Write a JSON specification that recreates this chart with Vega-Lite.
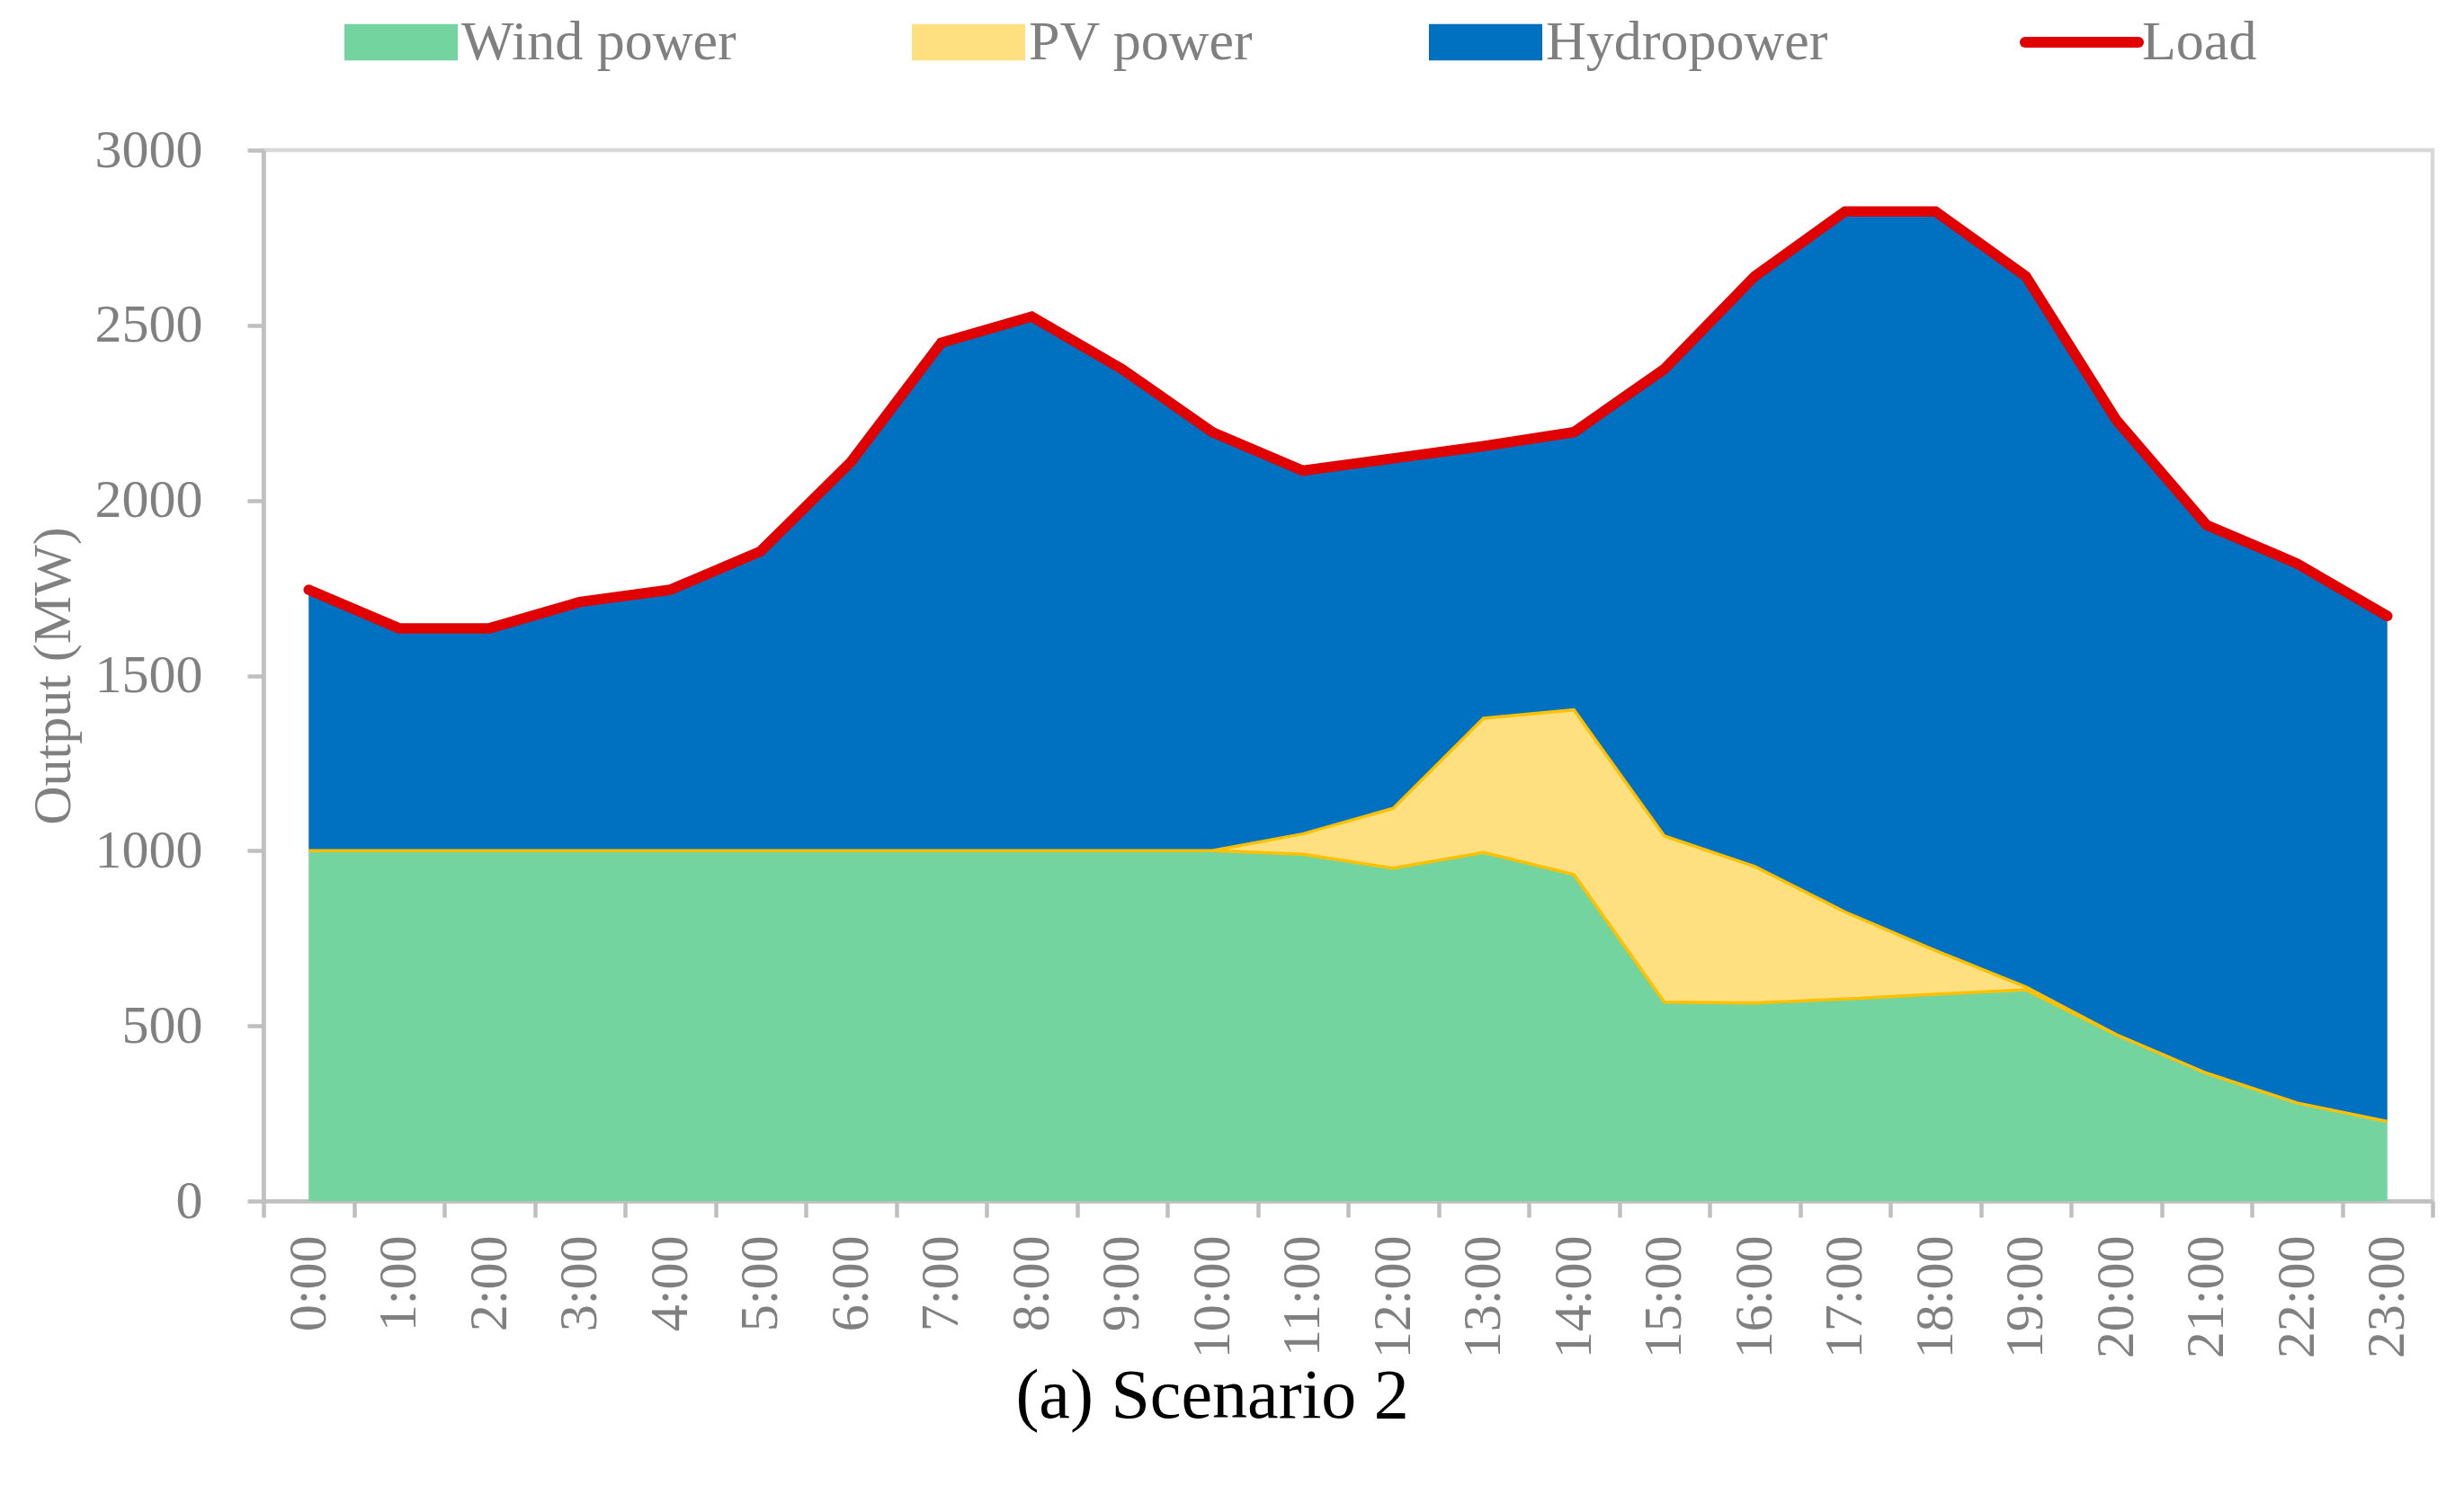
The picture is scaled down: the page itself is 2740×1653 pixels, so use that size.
{
  "$schema": "https://vega.github.io/schema/vega-lite/v6.json",
  "width": 2412,
  "height": 1169,
  "autosize": {"type": "none"},
  "padding": {"left": 293, "top": 167, "right": 35, "bottom": 317},
  "background": "white",
  "config": {
    "font": "Liberation Serif",
    "view": {"stroke": "#D9D9D9", "strokeWidth": 4.5},
    "axis": {
      "domainColor": "#BFBFBF", "domainWidth": 4.5,
      "tickColor": "#BFBFBF", "tickWidth": 4.5, "tickSize": 18,
      "labelColor": "#808080", "labelFont": "Liberation Serif", "labelFontSize": 60,
      "titleColor": "#808080", "titleFont": "Liberation Serif", "titleFontSize": 60, "titleFontWeight": "normal",
      "grid": false, "zindex": 1
    }
  },
  "title": {
    "text": "(a) Scenario 2", "orient": "bottom", "anchor": "middle", "frame": "bounds",
    "font": "Liberation Serif", "fontSize": 78, "fontWeight": "normal", "color": "black", "offset": 4, "dx": -20
  },
  "data": {
    "values": [
      {"h": "0:00", "s": "Wind power", "v": 1000}, {"h": "0:00", "s": "PV power", "v": 0}, {"h": "0:00", "s": "Hydropower", "v": 745}, {"h": "0:00", "s": "Load", "v": 1745},
      {"h": "1:00", "s": "Wind power", "v": 1000}, {"h": "1:00", "s": "PV power", "v": 0}, {"h": "1:00", "s": "Hydropower", "v": 635}, {"h": "1:00", "s": "Load", "v": 1635},
      {"h": "2:00", "s": "Wind power", "v": 1000}, {"h": "2:00", "s": "PV power", "v": 0}, {"h": "2:00", "s": "Hydropower", "v": 635}, {"h": "2:00", "s": "Load", "v": 1635},
      {"h": "3:00", "s": "Wind power", "v": 1000}, {"h": "3:00", "s": "PV power", "v": 0}, {"h": "3:00", "s": "Hydropower", "v": 710}, {"h": "3:00", "s": "Load", "v": 1710},
      {"h": "4:00", "s": "Wind power", "v": 1000}, {"h": "4:00", "s": "PV power", "v": 0}, {"h": "4:00", "s": "Hydropower", "v": 745}, {"h": "4:00", "s": "Load", "v": 1745},
      {"h": "5:00", "s": "Wind power", "v": 1000}, {"h": "5:00", "s": "PV power", "v": 0}, {"h": "5:00", "s": "Hydropower", "v": 855}, {"h": "5:00", "s": "Load", "v": 1855},
      {"h": "6:00", "s": "Wind power", "v": 1000}, {"h": "6:00", "s": "PV power", "v": 0}, {"h": "6:00", "s": "Hydropower", "v": 1110}, {"h": "6:00", "s": "Load", "v": 2110},
      {"h": "7:00", "s": "Wind power", "v": 1000}, {"h": "7:00", "s": "PV power", "v": 0}, {"h": "7:00", "s": "Hydropower", "v": 1450}, {"h": "7:00", "s": "Load", "v": 2450},
      {"h": "8:00", "s": "Wind power", "v": 1000}, {"h": "8:00", "s": "PV power", "v": 0}, {"h": "8:00", "s": "Hydropower", "v": 1525}, {"h": "8:00", "s": "Load", "v": 2525},
      {"h": "9:00", "s": "Wind power", "v": 1000}, {"h": "9:00", "s": "PV power", "v": 0}, {"h": "9:00", "s": "Hydropower", "v": 1375}, {"h": "9:00", "s": "Load", "v": 2375},
      {"h": "10:00", "s": "Wind power", "v": 1000}, {"h": "10:00", "s": "PV power", "v": 0}, {"h": "10:00", "s": "Hydropower", "v": 1195}, {"h": "10:00", "s": "Load", "v": 2195},
      {"h": "11:00", "s": "Wind power", "v": 990}, {"h": "11:00", "s": "PV power", "v": 58}, {"h": "11:00", "s": "Hydropower", "v": 1037}, {"h": "11:00", "s": "Load", "v": 2085},
      {"h": "12:00", "s": "Wind power", "v": 950}, {"h": "12:00", "s": "PV power", "v": 171}, {"h": "12:00", "s": "Hydropower", "v": 999}, {"h": "12:00", "s": "Load", "v": 2120},
      {"h": "13:00", "s": "Wind power", "v": 995}, {"h": "13:00", "s": "PV power", "v": 383}, {"h": "13:00", "s": "Hydropower", "v": 777}, {"h": "13:00", "s": "Load", "v": 2155},
      {"h": "14:00", "s": "Wind power", "v": 932}, {"h": "14:00", "s": "PV power", "v": 470}, {"h": "14:00", "s": "Hydropower", "v": 793}, {"h": "14:00", "s": "Load", "v": 2195},
      {"h": "15:00", "s": "Wind power", "v": 568}, {"h": "15:00", "s": "PV power", "v": 474}, {"h": "15:00", "s": "Hydropower", "v": 1333}, {"h": "15:00", "s": "Load", "v": 2375},
      {"h": "16:00", "s": "Wind power", "v": 565}, {"h": "16:00", "s": "PV power", "v": 390}, {"h": "16:00", "s": "Hydropower", "v": 1685}, {"h": "16:00", "s": "Load", "v": 2640},
      {"h": "17:00", "s": "Wind power", "v": 577}, {"h": "17:00", "s": "PV power", "v": 248}, {"h": "17:00", "s": "Hydropower", "v": 2000}, {"h": "17:00", "s": "Load", "v": 2825},
      {"h": "18:00", "s": "Wind power", "v": 590}, {"h": "18:00", "s": "PV power", "v": 125}, {"h": "18:00", "s": "Hydropower", "v": 2110}, {"h": "18:00", "s": "Load", "v": 2825},
      {"h": "19:00", "s": "Wind power", "v": 603}, {"h": "19:00", "s": "PV power", "v": 8}, {"h": "19:00", "s": "Hydropower", "v": 2029}, {"h": "19:00", "s": "Load", "v": 2640},
      {"h": "20:00", "s": "Wind power", "v": 475}, {"h": "20:00", "s": "PV power", "v": 0}, {"h": "20:00", "s": "Hydropower", "v": 1755}, {"h": "20:00", "s": "Load", "v": 2230},
      {"h": "21:00", "s": "Wind power", "v": 365}, {"h": "21:00", "s": "PV power", "v": 0}, {"h": "21:00", "s": "Hydropower", "v": 1565}, {"h": "21:00", "s": "Load", "v": 1930},
      {"h": "22:00", "s": "Wind power", "v": 280}, {"h": "22:00", "s": "PV power", "v": 0}, {"h": "22:00", "s": "Hydropower", "v": 1540}, {"h": "22:00", "s": "Load", "v": 1820},
      {"h": "23:00", "s": "Wind power", "v": 227}, {"h": "23:00", "s": "PV power", "v": 0}, {"h": "23:00", "s": "Hydropower", "v": 1443}, {"h": "23:00", "s": "Load", "v": 1670}
    ]
  },
  "encoding": {
    "x": {
      "field": "h", "type": "ordinal", "sort": null, "bandPosition": 0.5,
      "scale": {"type": "band", "paddingInner": 0, "paddingOuter": 0},
      "axis": {"title": null, "labelAngle": -90, "labelPadding": 20, "tickBand": "extent"}
    }
  },
  "layer": [
    {
      "transform": [
        {"filter": "datum.s !== 'Load'"},
        {"stack": "v", "groupby": ["h"], "sort": [{"field": "s", "order": "descending"}], "as": ["y0", "y1"]}
      ],
      "mark": {"type": "area"},
      "encoding": {
        "y": {
          "field": "y1", "type": "quantitative", "scale": {"domain": [0, 3000]},
          "axis": {"title": "Output (MW)", "format": "d", "values": [0, 500, 1000, 1500, 2000, 2500, 3000], "labelPadding": 50, "titlePadding": 15}
        },
        "y2": {"field": "y0"},
        "color": {
          "field": "s", "type": "nominal",
          "scale": {"domain": ["Wind power", "PV power", "Hydropower", "Load"], "range": ["#73D49F", "#FFE080", "#0070C0", "#E00000"]},
          "legend": {
            "title": null, "orient": "none", "direction": "horizontal", "legendX": 122, "legendY": -151,
            "padding": 0, "columnPadding": 195, "labelOffset": 36, "labelLimit": 2000,
            "labelFont": "Liberation Serif", "labelFontSize": 62, "labelColor": "#808080",
            "symbolType": "M-1,-0.32H1V0.32H-1Z", "symbolSize": 15876, "symbolStrokeWidth": 0,
            "encode": {
              "symbols": {
                "update": {
                  "shape": {"signal": "datum.label === 'Load' ? 'M-1,0H1' : 'M-1,-0.32H1V0.32H-1Z'"},
                  "stroke": {"signal": "datum.label === 'Load' ? '#E00000' : 'transparent'"},
                  "strokeWidth": {"signal": "datum.label === 'Load' ? 12 : 0"},
                  "strokeCap": {"value": "round"}
                }
              }
            }
          }
        }
      }
    },
    {
      "transform": [
        {"filter": "datum.s !== 'Load'"},
        {"stack": "v", "groupby": ["h"], "sort": [{"field": "s", "order": "descending"}], "as": ["y0", "y1"]},
        {"filter": "datum.s === 'PV power'"}
      ],
      "mark": {"type": "area", "fillOpacity": 0, "stroke": "#FFC000", "strokeWidth": 3.5},
      "encoding": {
        "y": {"field": "y1", "type": "quantitative"},
        "y2": {"field": "y0"}
      }
    },
    {
      "transform": [{"filter": "datum.s === 'Load'"}],
      "mark": {"type": "line", "strokeWidth": 11.5, "strokeCap": "round"},
      "encoding": {
        "y": {"field": "v", "type": "quantitative"},
        "color": {"field": "s", "type": "nominal"}
      }
    }
  ]
}
